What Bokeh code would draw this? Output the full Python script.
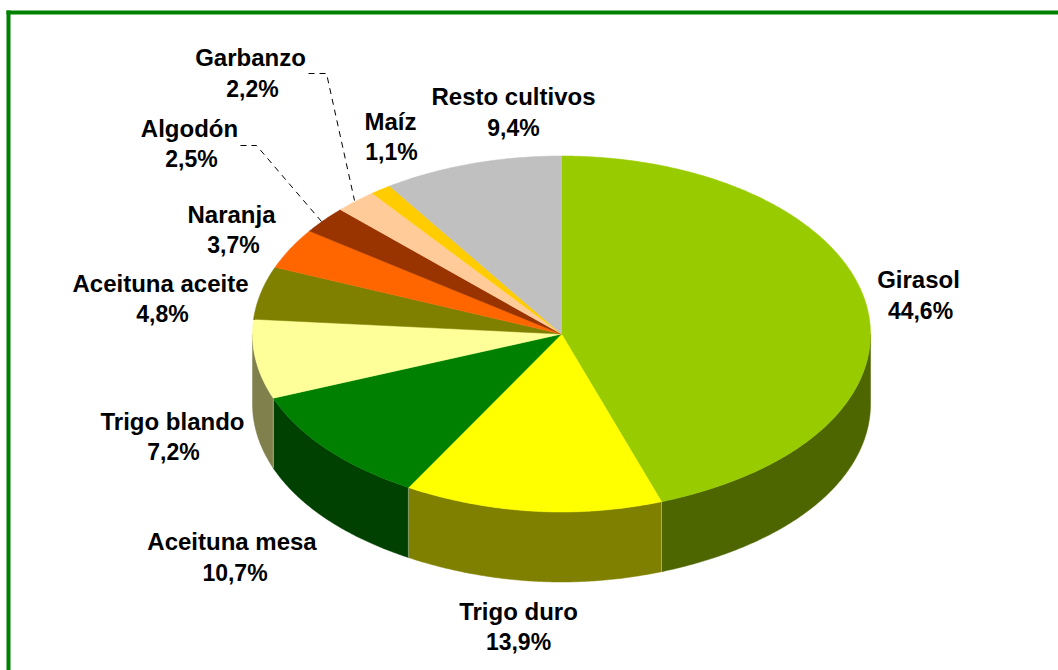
import numpy as np
from bokeh.core.properties import value
from bokeh.embed import file_html
from bokeh.models import ColumnDataSource, Range1d
from bokeh.plotting import figure
from bokeh.resources import INLINE

# ---- data
categories = ["Girasol", "Trigo duro", "Aceituna mesa", "Trigo blando", "Aceituna aceite",
              "Naranja", "Algodón", "Garbanzo", "Maíz", "Resto cultivos"]
shares = [44.6, 13.9, 10.7, 7.2, 4.8, 3.7, 2.5, 2.2, 1.1, 9.4]
share_labels = ["44,6%", "13,9%", "10,7%", "7,2%", "4,8%", "3,7%", "2,5%", "2,2%", "1,1%", "9,4%"]

# ---- styles
top_colors = ["#99CC00", "#FFFF00", "#008000", "#FFFF99", "#808000",
              "#FF6600", "#993300", "#FFCC99", "#FFCC00", "#C0C0C0"]
side_colors = ["#4D6600", "#808000", "#004000", "#80804D", "#404000",
               "#803300", "#4D1A00", "#80664D", "#806600", "#606060"]

# ---- layout (page pixels)
W, H = 1058, 670
CX, CY, RX, RY, DEPTH = 561, 333.5, 309, 178, 70
NEAR_SQUEEZE = 0.05  # the near rim is drawn slightly narrower, as in a perspective view
FONT = "Liberation Sans"
# centre of the two text lines of each label
name_xy = [(918, 279), (518, 611), (231.5, 541), (172, 421), (160, 283),
           (231, 214), (189, 128), (250, 57), (390, 121), (513, 96)]
share_xy = [(920, 310), (518, 641), (234.5, 572), (173, 451), (162, 313),
            (233, 244), (191, 158), (252, 88), (391, 151), (513, 127)]
leaders = {"Algodón": [(240, 145), (256, 145), (321, 221)],
           "Garbanzo": [(308, 73), (326, 73), (354, 200)]}


def ell(a_deg):
    a = np.radians(a_deg)
    squeeze = 1 - NEAR_SQUEEZE * np.clip(-np.cos(a), 0, 1) ** 6
    return CX + RX * np.sin(a) * squeeze, CY - RY * np.cos(a)


edges = np.concatenate([[0.0], np.cumsum(shares)]) / sum(shares) * 360.0

top_xs, top_ys, side_xs, side_ys, side_cols, sep_xs, sep_ys = [], [], [], [], [], [], []
for i in range(len(shares)):
    a0, a1 = edges[i], edges[i + 1]
    n = max(4, int((a1 - a0) * 2))
    x, y = ell(np.linspace(a0, a1, n))
    top_xs.append(np.concatenate([[CX], x]))
    top_ys.append(np.concatenate([[CY], y]))
    # the visible wall is the part of the rim on the near half of the ellipse
    b0, b1 = max(a0, 90.0), min(a1, 270.0)
    if b1 > b0:
        x, y = ell(np.linspace(b0, b1, max(4, int((b1 - b0) * 2))))
        side_xs.append(np.concatenate([x, x[::-1]]))
        side_ys.append(np.concatenate([y, (y + DEPTH)[::-1]]))
        side_cols.append(side_colors[i])
        if 90 < b1 < 270:
            ex, ey = ell(b1)
            sep_xs.append([ex, ex])
            sep_ys.append([ey, ey + DEPTH])

p = figure(width=W, height=H, output_backend="svg", toolbar_location=None,
           x_range=Range1d(0, W), y_range=Range1d(H, 0),
           x_axis_type=None, y_axis_type=None, min_border=0,
           outline_line_color=None, background_fill_color="white",
           border_fill_color="white",
           styles={"position": "absolute", "left": "0px", "top": "0px"})
p.grid.visible = False

# frame: only the top and left edges are visible
p.quad(left=[6, 6], right=[W, 10], top=[10, 10], bottom=[14, H],
       fill_color="#008000", line_color=None)

p.patches(xs=side_xs, ys=side_ys, fill_color=side_cols, line_color=side_cols, line_width=0.5)
p.multi_line(xs=sep_xs, ys=sep_ys, line_color="#C8C8A0", line_width=1, line_alpha=0.6)
p.patches(xs=top_xs, ys=top_ys, fill_color=top_colors, line_color=top_colors, line_width=0.5)

for name, pts in leaders.items():
    p.line([q[0] for q in pts], [q[1] for q in pts], line_color="black",
           line_width=1, line_dash="6 5")

names = ColumnDataSource(dict(x=[q[0] for q in name_xy], y=[q[1] for q in name_xy], t=categories))
pcts = ColumnDataSource(dict(x=[q[0] for q in share_xy], y=[q[1] for q in share_xy], t=share_labels))
p.text(x="x", y="y", text="t", source=names, text_align="center", text_baseline="middle",
       text_font=value(FONT), text_font_style="bold", text_font_size="24px", text_color="black")
p.text(x="x", y="y", text="t", source=pcts, text_align="center", text_baseline="middle",
       text_font=value(FONT), text_font_style="bold", text_font_size="23px", text_color="black")

open("out.html", "w").write(file_html(p, INLINE))
